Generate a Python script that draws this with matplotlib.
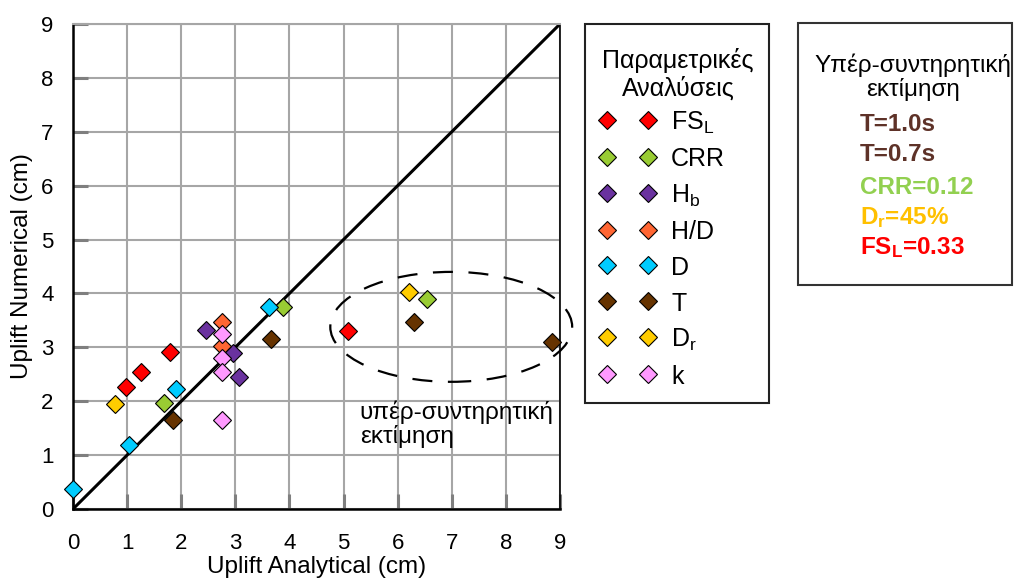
import matplotlib
matplotlib.use("Agg")
import matplotlib.pyplot as plt
from matplotlib.patches import Ellipse, Rectangle

plt.rcParams['font.family'] = ['Liberation Sans', 'DejaVu Sans']
plt.rcParams['mathtext.fontset'] = 'custom'
plt.rcParams['mathtext.rm'] = 'Liberation Sans'
plt.rcParams['mathtext.it'] = 'Liberation Sans'
plt.rcParams['mathtext.bf'] = 'Liberation Sans:bold'

# ---- data ----
series_labels = ['FS$_\\mathregular{L}$', 'CRR', 'H$_\\mathregular{b}$', 'H/D', 'D', 'T',
                 'D$_\\mathregular{r}$', 'k']
series_colors = ['#FF0000', '#99CC33', '#6A329F', '#FF6633', '#00CCFF', '#663300',
                 '#FFCC00', '#FF99FF']

fsl_x = [0.98, 1.26, 1.79, 5.08]
fsl_y = [2.26, 2.54, 2.91, 3.30]
crr_x = [1.68, 3.89, 6.55]
crr_y = [1.97, 3.74, 3.90]
hb_x = [2.45, 2.95, 3.07]
hb_y = [3.32, 2.90, 2.45]
hd_x = [2.76, 2.76]
hd_y = [3.47, 3.02]
d_x = [0.00, 1.04, 1.90, 3.62]
d_y = [0.38, 1.19, 2.22, 3.74]
t_x = [1.85, 3.65, 6.30, 8.86]
t_y = [1.65, 3.15, 3.47, 3.09]
dr_x = [0.78, 6.21]
dr_y = [1.95, 4.03]
k_x = [2.76, 2.76, 2.76, 2.76]
k_y = [3.24, 2.80, 2.54, 1.65]

series_x = [fsl_x, crr_x, hb_x, hd_x, d_x, t_x, dr_x, k_x]
series_y = [fsl_y, crr_y, hb_y, hd_y, d_y, t_y, dr_y, k_y]

ticks = [0, 1, 2, 3, 4, 5, 6, 7, 8, 9]

legend_title = 'Παραμετρικές\nΑναλύσεις'
note_title = 'Υπέρ-συντηρητική\nεκτίμηση'
note_lines = ['T=1.0s', 'T=0.7s', 'CRR=0.12', 'D$_\\mathbf{r}$=45%', 'FS$_\\mathbf{L}$=0.33']
note_colors = ['#5E3228', '#5E3228', '#92D050', '#FFC000', '#FF0000']

# ---- figure ----
W, H = 1014, 580
fig = plt.figure(figsize=(W / 100, H / 100), dpi=100)
ax = fig.add_axes([73 / W, 1 - 509 / H, (560 - 73) / W, (509 - 24) / H])
ax.set_xlim(0, 9)
ax.set_ylim(0, 9)
ax.set_xticks(ticks)
ax.set_yticks(ticks)
ax.grid(True, color='#A6A6A6', linewidth=1.5, zorder=0)
ax.set_axisbelow(True)
for s in ['left', 'bottom']:
    ax.spines[s].set_color('black')
    ax.spines[s].set_linewidth(1.8)
ax.spines['top'].set_color('#A6A6A6')
ax.spines['top'].set_linewidth(1.5)
ax.spines['right'].set_color('black')
ax.spines['right'].set_linewidth(1.2)
ax.tick_params(axis='both', direction='in', length=11, width=2.2, color='#7F7F7F',
               labelsize=16)
ax.tick_params(axis='x', pad=17.5)
ax.tick_params(axis='y', pad=14)

ax.plot([0, 9], [0, 9], color='black', linewidth=2.2, zorder=2)

for xs, ys, c, lab in zip(series_x, series_y, series_colors, series_labels):
    ax.plot(xs, ys, linestyle='none', marker='D', markersize=9, markerfacecolor=c,
            markeredgecolor='black', markeredgewidth=0.8, zorder=3, label=lab,
            clip_on=False)

ell = Ellipse((6.99, 3.38), 4.47, 2.04, fill=False, edgecolor='black', linewidth=1.6,
              linestyle=(0, (9, 7)), clip_on=False, zorder=4)
ax.add_patch(ell)
ax.text(5.3, 2.02, 'υπέρ-συντηρητική\nεκτίμηση', fontsize=17.5, ha='left', va='top',
        linespacing=1.1)

ax.set_xlabel('Uplift Analytical (cm)', fontsize=17.5, labelpad=1.5)
ax.set_ylabel('Uplift Numerical (cm)', fontsize=17.5, labelpad=6)

# legend (frame and title drawn separately)
lbox = Rectangle((585 / W, 1 - 403 / H), (769 - 585) / W, (403 - 24) / H,
                 transform=fig.transFigure, fill=False, edgecolor='#222222', linewidth=1.5)
fig.patches.append(lbox)
fig.text(678 / W, 1 - 74 / H, legend_title, fontsize=18, ha='center', va='center',
         linespacing=1.15)
handles, labels = ax.get_legend_handles_labels()
leg = fig.legend(handles, labels, loc='upper left',
                 bbox_to_anchor=(587 / W, 1 - 97 / H), bbox_transform=fig.transFigure,
                 fontsize=18, numpoints=2, handlelength=2.24, handletextpad=0.62,
                 labelspacing=0.44, handleheight=1.0, borderpad=0.5, frameon=False,
                 borderaxespad=0)

# right note box
box = Rectangle((798 / W, 1 - 285 / H), (1012 - 798) / W, (285 - 23) / H,
                transform=fig.transFigure, fill=False, edgecolor='#333333', linewidth=1.5)
fig.patches.append(box)
fig.text(913 / W, 1 - 77 / H, note_title, fontsize=17.5, ha='center',
         va='center', linespacing=1.05)
ys_note = [125, 155, 187, 218, 248]
for t, c, yp in zip(note_lines, note_colors, ys_note):
    fig.text(860 / W, 1 - yp / H, t, fontsize=17.5, fontweight='bold', color=c,
             ha='left', va='center')

fig.savefig('out.png', dpi=100)
